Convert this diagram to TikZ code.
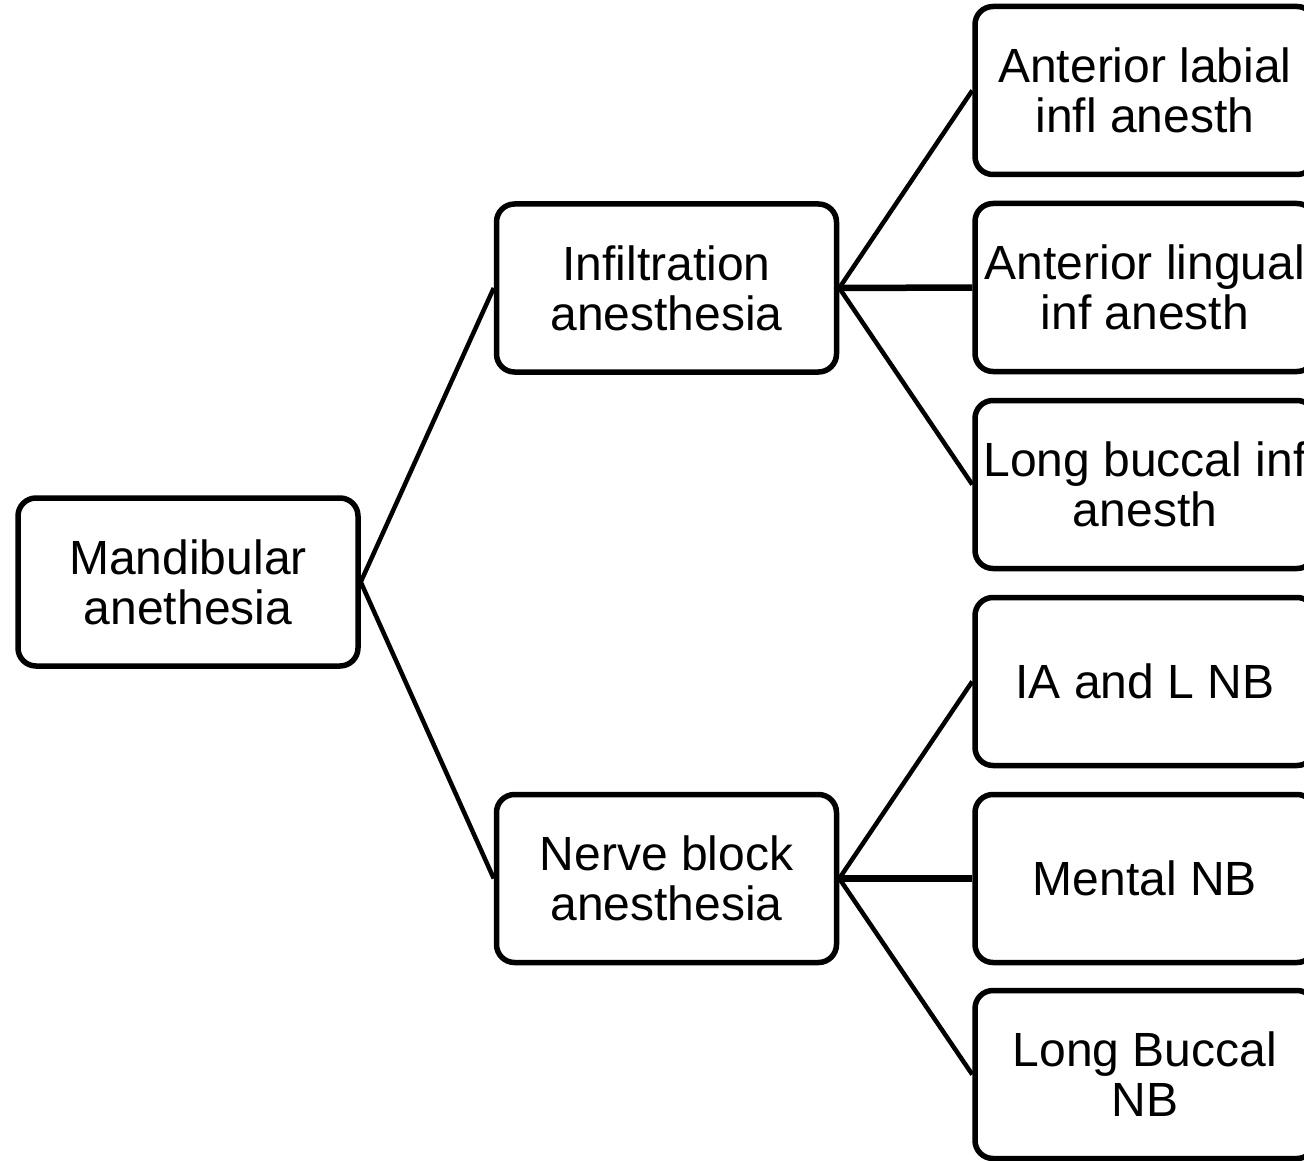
\documentclass[tikz,border=0pt]{standalone}
\usepackage{fontspec}
\setmainfont{Liberation Sans}
\begin{document}
\begin{tikzpicture}[x=1pt,y=-1pt,
  box/.style={draw=black, line width=5.5pt, rounded corners=18pt, fill=white,
    minimum width=340pt, minimum height=168pt, align=center, inner sep=0pt,
    font=\fontsize{48}{50}\selectfont},
  link/.style={draw=black, line width=4.5pt},
  hlink/.style={draw=black, line width=6.5pt}]
\useasboundingbox (0,0) rectangle (1304,1161);
\clip (0,0) rectangle (1304,1161);
\node[box] (m) at (188,582) {Mandibular\\anethesia};
\node[box] (inf) at (666.5,288) {Infiltration\\anesthesia};
\node[box] (nb) at (666.5,878.5) {Nerve block\\anesthesia};
\node[box] (r1) at (1145,90.5) {Anterior labial\\infl anesth};
\node[box] (r2) at (1145,287.5) {Anterior lingual\\inf anesth};
\node[box] (r3) at (1145,484.5) {Long buccal inf\\anesth};
\node[box] (r4) at (1145,681.5) {IA and L NB};
\node[box] (r5) at (1145,878.5) {Mental NB};
\node[box] (r6) at (1145,1074.5) {Long Buccal\\NB};
\draw[link] (m.east) -- (inf.west);
\draw[link] (m.east) -- (nb.west);
\draw[link] (inf.east) -- (r1.west);
\draw[hlink] (inf.east) -- (r2.west);
\draw[link] (inf.east) -- (r3.west);
\draw[link] (nb.east) -- (r4.west);
\draw[hlink] (nb.east) -- (r5.west);
\draw[link] (nb.east) -- (r6.west);
\end{tikzpicture}
\end{document}
